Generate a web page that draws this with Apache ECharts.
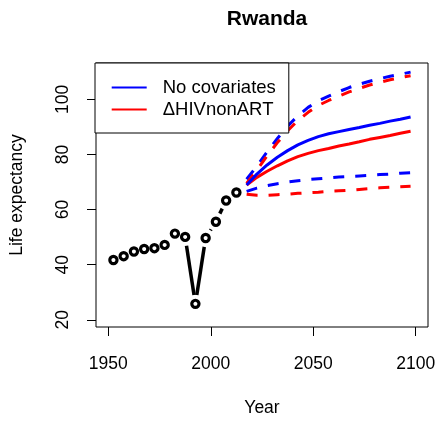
<!DOCTYPE html>
<html>
<head>
<meta charset="utf-8">
<script src="https://cdn.jsdelivr.net/npm/echarts@6/dist/echarts.min.js"></script>
<style>html,body{margin:0;padding:0;background:#fff}#c{width:439px;height:422px}</style>
</head>
<body>
<div id="c"></div>
<script>
// ---- data ----
const obsYears = [1952.5,1957.5,1962.5,1967.5,1972.5,1977.5,1982.5,1987.5,1992.5,1997.5,2002.5,2007.5,2012.5];
const obsValues = [41.7,43.1,44.8,45.7,46.0,47.2,51.3,50.1,25.8,49.7,55.6,63.3,66.2];

const projYears = [2017.5,2022.5,2027.5,2032.5,2037.5,2042.5,2047.5,2052.5,2057.5,2062.5,2067.5,2072.5,2077.5,2082.5,2087.5,2092.5,2097.5];
const noCovMedian = [68.9,72.9,76.2,79.0,81.4,83.5,85.1,86.5,87.5,88.3,89.1,89.8,90.6,91.3,92.1,92.8,93.6];
const noCovUpper  = [71.0,75.8,81.0,85.8,90.3,94.0,97.1,99.5,101.2,102.8,104.3,105.5,106.6,107.5,108.4,109.1,109.9];
const noCovLower  = [66.6,67.8,68.7,69.4,70.0,70.5,70.9,71.2,71.5,71.8,72.0,72.2,72.4,72.7,72.9,73.2,73.4];
const hivMedian   = [68.9,71.7,73.9,75.9,77.7,79.2,80.4,81.4,82.2,83.1,83.8,84.6,85.5,86.2,86.9,87.7,88.4];
const hivUpper    = [69.5,74.3,79.5,84.3,88.6,92.3,95.3,97.8,99.6,101.2,102.7,104.0,105.2,106.2,107.1,107.9,108.6];
const hivLower    = [65.6,65.2,65.2,65.4,65.6,65.9,66.1,66.3,66.6,66.8,67.0,67.3,67.6,67.9,68.1,68.3,68.5];

const xTicks = [1950,2000,2050,2100];
const yTicks = [20,40,60,80,100];
const seriesNames = ['No covariates','\u0394HIVnonART'];
const titleText = 'Rwanda';
const xName = 'Year';
const yName = 'Life expectancy';

// ---- build ----
const FONT = "'Liberation Sans', Arial, Helvetica, sans-serif";
const BLUE = '#0000ff', RED = '#ff0000';
const zip = (xs, ys) => xs.map((x, i) => [x, ys[i]]);
const segData = obsYears.slice(0, -1).map((x, i) => [x, obsValues[i], obsYears[i + 1], obsValues[i + 1]]);
const GAP = 9;

function lineSeries(name, vals, color, dashed) {
  return {
    type: 'line', name: name, data: zip(projYears, vals),
    showSymbol: false, symbol: 'none', silent: true,
    lineStyle: { color: color, width: 3, type: dashed ? [11, 11] : 'solid', cap: 'butt' },
    itemStyle: { color: color },
    z: dashed ? 3 : 4
  };
}

const chart = echarts.init(document.getElementById('c'), null, { renderer: 'canvas' });
chart.setOption({
  animation: false,
  backgroundColor: '#fff',
  title: {
    text: titleText, left: 262, top: 4, textAlign: 'center',
    textStyle: { fontFamily: FONT, fontSize: 21, fontWeight: 'bold', color: '#000' }
  },
  legend: {
    data: seriesNames.map(n => ({ name: n, icon: 'rect' })),
    orient: 'vertical', left: 95, top: 63,
    padding: [15, 13, 14, 16.7], itemGap: 3, itemWidth: 35, itemHeight: 2,
    backgroundColor: '#fff', borderColor: '#000', borderWidth: 1, borderRadius: 0,
    selectedMode: false,
    textStyle: { fontFamily: FONT, fontSize: 18.5, color: '#000', padding: [0, 0, 0, 11] },
    z: 10
  },
  grid: { left: 96, right: 11, top: 63, bottom: 94, show: true, borderColor: '#000', borderWidth: 1, backgroundColor: 'transparent' },
  xAxis: {
    type: 'value', min: 1944, max: 2106,
    name: xName, nameLocation: 'middle', nameGap: 72,
    nameTextStyle: { fontFamily: FONT, fontSize: 17.5, color: '#000' },
    axisLine: { show: false },
    axisTick: { show: true, length: 9, customValues: xTicks, lineStyle: { color: '#000', width: 1 } },
    axisLabel: { customValues: xTicks, margin: 28, fontFamily: FONT, fontSize: 17.5, color: '#000', formatter: v => String(v) },
    splitLine: { show: false }
  },
  yAxis: {
    type: 'value', min: 17.4, max: 113.2,
    name: yName, nameLocation: 'middle', nameGap: 70,
    nameTextStyle: { fontFamily: FONT, fontSize: 17.5, color: '#000' },
    axisLine: { show: false },
    axisTick: { show: true, length: 9, customValues: yTicks, lineStyle: { color: '#000', width: 1 } },
    axisLabel: { customValues: yTicks, rotate: 90, margin: 24, fontFamily: FONT, fontSize: 17.5, color: '#000', formatter: v => String(v) },
    splitLine: { show: false }
  },
  series: [
    lineSeries('noCovUpper', noCovUpper, BLUE, true),
    lineSeries('hivUpper', hivUpper, RED, true),
    lineSeries('noCovLower', noCovLower, BLUE, true),
    lineSeries('hivLower', hivLower, RED, true),
    lineSeries(seriesNames[1], hivMedian, RED, false),
    lineSeries(seriesNames[0], noCovMedian, BLUE, false),
    {
      type: 'custom', name: 'obsSeg', data: segData, silent: true, z: 5,
      renderItem: function (params, api) {
        const p1 = api.coord([api.value(0), api.value(1)]);
        const p2 = api.coord([api.value(2), api.value(3)]);
        const dx = p2[0] - p1[0], dy = p2[1] - p1[1];
        const len = Math.sqrt(dx * dx + dy * dy);
        if (len <= 2 * GAP) return null;
        const ux = dx / len, uy = dy / len;
        return {
          type: 'line',
          shape: { x1: p1[0] + ux * GAP, y1: p1[1] + uy * GAP, x2: p2[0] - ux * GAP, y2: p2[1] - uy * GAP },
          style: { stroke: '#000', lineWidth: 3.5, lineCap: 'butt' }
        };
      }
    },
    {
      type: 'scatter', name: 'obs', data: zip(obsYears, obsValues), silent: true, z: 6,
      symbol: 'circle', symbolSize: 7.2,
      itemStyle: { color: 'rgba(0,0,0,0)', borderColor: '#000', borderWidth: 3.2, opacity: 1 }
    }
  ]
});
</script>
</body>
</html>
